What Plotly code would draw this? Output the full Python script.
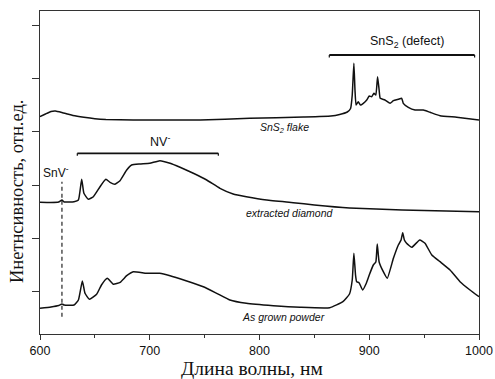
import plotly.graph_objects as go

# Photoluminescence spectra (arbitrary units, stacked)
wl_flake = [600, 605, 610, 614, 620, 625, 630, 640, 650, 660, 685, 746, 791, 840, 865, 873, 880, 883,
            884.5, 886, 887, 888, 890, 892, 894.6, 897.7, 900, 902.2, 904.3, 906, 907.6, 909,
            910, 914.3, 919, 922, 926.5, 929.6, 931, 935.6, 941.7, 949.3, 955.4, 964.5, 979.7, 1000]
int_flake = [217.3, 220, 222.5, 223, 221.5, 220, 218.5, 216.7, 215.3, 214.5, 214, 214, 215.7, 217, 218, 219.5, 222, 225.5,
             239, 270.7, 244, 229, 232.3, 229, 230.7, 234, 238, 237.3, 240.7, 239, 257.3, 244,
             235.7, 234, 230.7, 233.3, 234.7, 235.7, 230.7, 226.7, 224, 224, 221.7, 218.3, 216.7, 214]

wl_diamond = [600, 610, 617, 620, 622, 631, 635, 638, 640, 644, 648.6, 654.7, 660, 663.8, 668.3, 672.9,
              679, 683.5, 691, 700, 709.3, 718.5, 727.6, 739.7, 751.9, 764, 776, 788, 806.6, 830.8,
              850, 882, 930, 1000]
int_diamond = [131.7, 131.5, 132, 134, 132, 132.3, 134, 154.7, 140.7, 134.7, 137.3, 147.3, 154.7, 151.7, 149.7, 153.3,
               164, 169, 170, 170.7, 173.3, 170.7, 166.7, 160.7, 154, 145.7, 140, 137.3, 134, 131.3,
               129, 126, 124, 122.3]

wl_powder = [600, 610, 617, 620, 622, 631, 635, 638.6, 641, 645, 651.6, 656, 661.3, 666.8, 673, 679,
             685, 697, 709, 718.5, 733.7, 748.8, 761, 773, 788, 812.6, 837, 864, 876, 882, 884.5,
             886, 887.5, 888.5, 890.7, 894, 897, 900, 903.7, 906, 907.3, 909, 912.8, 916.4, 922,
             926.5, 929, 930.5, 932, 934, 938.7, 946, 950.8, 957, 964.5, 973.6, 982.7, 991.8, 1000]
int_powder = [25.7, 27, 28.5, 30, 29, 29, 34, 53, 40.7, 34.7, 39.7, 49, 55.7, 49.7, 51.7, 58.3,
              62.3, 60.7, 60.7, 58.3, 53, 47.3, 40.7, 34, 30.7, 28.3, 26.7, 26.3, 32.3, 40, 54,
              80.7, 59, 52.3, 51.3, 44, 50, 59, 69, 72, 90, 72, 62.3, 55.7, 75.7,
              89, 94, 101.3, 94, 90.7, 86.7, 94, 90.7, 79, 72.3, 64, 52.3, 44, 37.3]

x_ticks = [600, 700, 800, 900, 1000]

fig = go.Figure()
for wl, inten in [(wl_flake, int_flake), (wl_diamond, int_diamond), (wl_powder, int_powder)]:
    fig.add_trace(go.Scatter(x=wl, y=inten, mode="lines",
                             line=dict(color="#111", width=1.5, shape="spline", smoothing=0.4),
                             showlegend=False, hoverinfo="skip"))

line_style = dict(color="#111", width=1.8)
end_style = dict(color="#111", width=1.2)
# SnS2 defect bracket
fig.add_shape(type="line", x0=863.6, x1=996, y0=279, y1=279, line=line_style)
fig.add_shape(type="line", x0=863.6, x1=863.6, y0=279, y1=276.5, line=end_style)
fig.add_shape(type="line", x0=996, x1=996, y0=279, y1=276.5, line=end_style)
# NV- bracket
fig.add_shape(type="line", x0=634, x1=762.5, y0=180.7, y1=180.7, line=line_style)
fig.add_shape(type="line", x0=634, x1=634, y0=180.7, y1=178.2, line=end_style)
fig.add_shape(type="line", x0=762.5, x1=762.5, y0=180.7, y1=178.2, line=end_style)
# SnV- marker
fig.add_shape(type="line", x0=620, x1=620, y0=17.3, y1=152.3,
              line=dict(color="#111", width=1.1, dash="4px,3px"))

sans = "Liberation Sans, Arial, sans-serif"
serif = "Liberation Serif, Times New Roman, serif"
notes = [
    (934, 292.3, "SnS<sub>2</sub> (defect)", 12.5),
    (709, 193, "NV<sup>-</sup>", 12.5),
    (614.6, 162.3, "SnV<sup>-</sup>", 12),
    (823, 205.7, "<i>SnS<sub>2</sub> flake</i>", 10.5),
    (828, 120.7, "<i>extracted diamond</i>", 10.5),
    (822, 16.7, "<i>As grown powder</i>", 10.5),
]
for x, y, t, s in notes:
    fig.add_annotation(x=x, y=y, text=t, showarrow=False,
                       xanchor="center", yanchor="middle",
                       font=dict(family=sans, size=s, color="#111"))

# axis titles
fig.add_annotation(xref="paper", yref="paper", x=0.482, y=-0.106, text="Длина волны, нм",
                   xanchor="center", yanchor="middle", borderpad=0,
                   showarrow=False, font=dict(family=serif, size=19.5, color="#111"))
fig.add_annotation(xref="paper", yref="paper", x=-0.052, y=0.443, text="Инетнсивность, отн.ед.",
                   xanchor="center", yanchor="middle", borderpad=0,
                   textangle=-90, showarrow=False, font=dict(family=serif, size=18.5, color="#111"))

fig.update_layout(
    width=495, height=379,
    margin=dict(l=40, r=16, t=11, b=45, autoexpand=False),
    plot_bgcolor="white", paper_bgcolor="white",
)
fig.update_xaxes(
    range=[600, 1000], tickvals=x_ticks, ticktext=[str(v) for v in x_ticks],
    ticks="outside", ticklen=5, tickcolor="#333", tickwidth=1, ticklabelstandoff=0,
    minor=dict(dtick=50, tick0=600, ticks="outside", ticklen=3, tickcolor="#333"),
    showline=True, linecolor="#333", linewidth=1.2, mirror=True,
    showgrid=False, zeroline=False, automargin=False,
    tickfont=dict(family=sans, size=12.5, color="#111"),
)
fig.update_yaxes(
    range=[0, 323], tick0=42.5, dtick=53.2, showticklabels=False,
    ticks="outside", ticklen=7, tickcolor="#333", tickwidth=1,
    showline=True, linecolor="#333", linewidth=1.2, mirror=True,
    showgrid=False, zeroline=False, automargin=False,
)

fig.write_html("out.html")
